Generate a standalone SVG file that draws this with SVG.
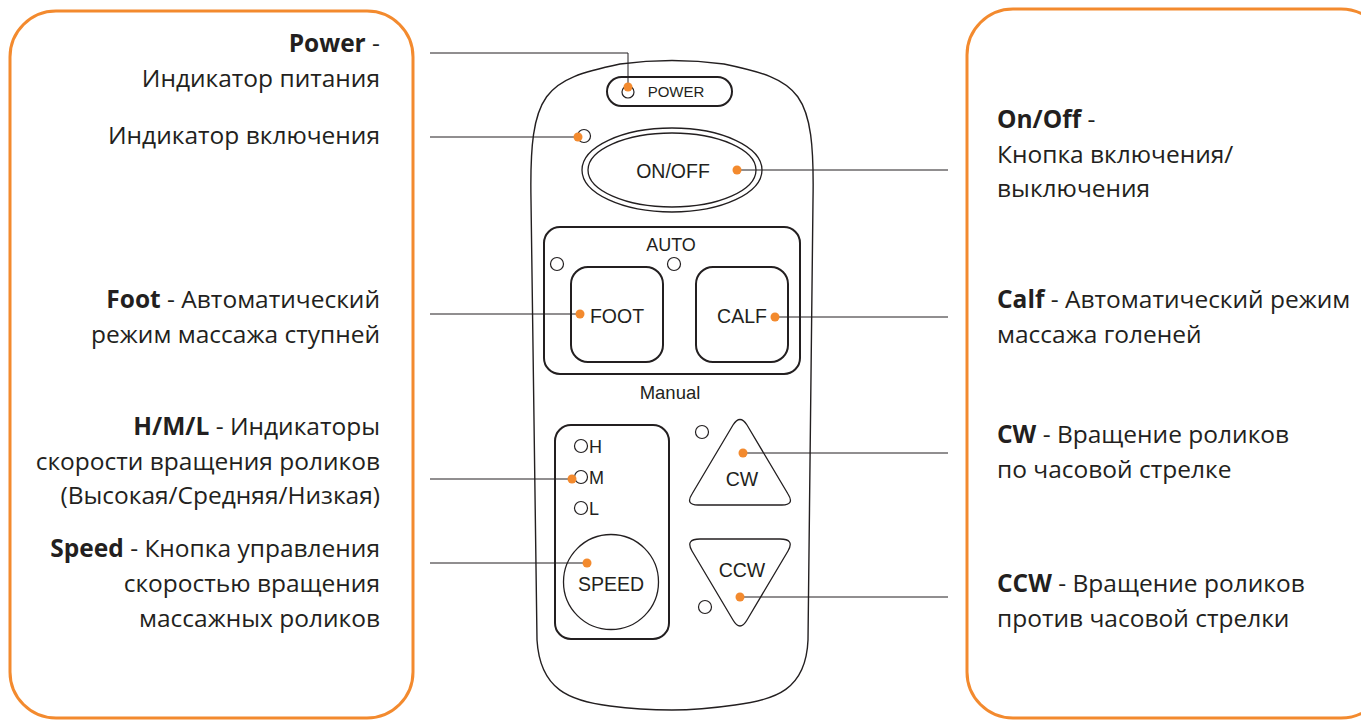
<svg xmlns="http://www.w3.org/2000/svg" width="1361" height="720" viewBox="0 0 1361 720">
<style>
.panel{fill:none;stroke:#f38a2e;stroke-width:3}
.body{fill:#fff;stroke:#231f20;stroke-width:1.4}
.btn{fill:#fff;stroke:#231f20;stroke-width:2}
.thin{fill:#fff;stroke:#231f20;stroke-width:1.3}
.led{fill:#fff;stroke:#231f20;stroke-width:1.2}
.dot{fill:#f38a2e}
.conn{fill:none;stroke:#231f20;stroke-width:1}
.lbl{font-family:"Open Sans","Noto Sans","Liberation Sans",sans-serif;font-size:24.5px;fill:#231f20}
.lbl .b{font-weight:bold}
.dev{font-family:"Liberation Sans",Arial,sans-serif;font-size:19.5px;fill:#231f20;text-anchor:middle}
.r{text-anchor:end}
</style>
<rect width="1361" height="720" fill="#fff"/>
<g id="left-panel">
<rect class="panel" x="10" y="11" width="403" height="707" rx="46" ry="46"/>
<text class="lbl r" x="380" y="52"><tspan class="b">Power</tspan> -</text>
<text class="lbl r" x="380" y="87">Индикатор питания</text>
<text class="lbl r" x="380" y="144">Индикатор включения</text>
<text class="lbl r" x="380" y="308"><tspan class="b">Foot</tspan> - Автоматический</text>
<text class="lbl r" x="380" y="343">режим массажа ступней</text>
<text class="lbl r" x="380" y="435"><tspan class="b">H/M/L</tspan> - Индикаторы</text>
<text class="lbl r" x="380" y="470">скорости вращения роликов</text>
<text class="lbl r" x="380" y="504">(Высокая/Средняя/Низкая)</text>
<text class="lbl r" x="380" y="557"><tspan class="b">Speed</tspan> - Кнопка управления</text>
<text class="lbl r" x="380" y="592">скоростью вращения</text>
<text class="lbl r" x="380" y="627">массажных роликов</text>
</g>
<g id="right-panel">
<rect class="panel" x="967" y="9" width="420" height="709" rx="46" ry="46"/>
<text class="lbl" x="997" y="128"><tspan class="b">On/Off</tspan> -</text>
<text class="lbl" x="997" y="163">Кнопка включения/</text>
<text class="lbl" x="997" y="197">выключения</text>
<text class="lbl" x="997" y="308"><tspan class="b">Calf</tspan> - Автоматический режим</text>
<text class="lbl" x="997" y="343">массажа голеней</text>
<text class="lbl" x="997" y="443"><tspan class="b">CW</tspan> - Вращение роликов</text>
<text class="lbl" x="997" y="478">по часовой стрелке</text>
<text class="lbl" x="997" y="592"><tspan class="b">CCW</tspan> - Вращение роликов</text>
<text class="lbl" x="997" y="627">против часовой стрелки</text>
</g>
<g id="remote">
<path class="body" d="M531,200 C529,90 545,80 620,64 Q672,57 724,64 C800,80 815,90 813,200 L808,640 C806,690 775,700 735,705 Q700,710 672,710 Q640,710 610,706 C570,701 540,690 537,640 Z"/>
<g id="power-button">
<rect class="btn" x="607" y="77" width="125" height="29" rx="14.5"/>
<circle class="led" cx="628" cy="92" r="6"/>
<text class="dev" x="676" y="97" style="font-size:15px">POWER</text>
</g>
<g id="on-led"><circle class="led" cx="584" cy="136" r="6.5"/></g>
<g id="onoff-button">
<ellipse class="thin" cx="672" cy="170" rx="90" ry="42"/>
<ellipse class="thin" cx="672" cy="170" rx="84" ry="37"/>
<text class="dev" x="673" y="178">ON/OFF</text>
</g>
<g id="auto-panel">
<rect class="btn" x="544" y="227" width="256" height="147" rx="16"/>
<text class="dev" x="671" y="251" style="font-size:18px">AUTO</text>
<circle class="led" cx="557" cy="264" r="6.5"/>
<circle class="led" cx="674" cy="264" r="6.5"/>
</g>
<g id="foot-button">
<rect class="btn" x="571" y="267" width="92" height="95" rx="17"/>
<text class="dev" x="617" y="323">FOOT</text>
</g>
<g id="calf-button">
<rect class="btn" x="696" y="267" width="92" height="95" rx="17"/>
<text class="dev" x="742" y="323">CALF</text>
</g>
<text class="dev" x="670" y="399" style="font-size:18.5px">Manual</text>
<g id="speed-panel">
<rect class="btn" x="555" y="425" width="114" height="214" rx="16"/>
<circle class="led" cx="581" cy="446" r="6.5"/>
<text class="dev" x="589" y="453" style="text-anchor:start;font-size:18px">H</text>
<circle class="led" cx="581" cy="477" r="6.5"/>
<text class="dev" x="589" y="484" style="text-anchor:start;font-size:18px">M</text>
<circle class="led" cx="581" cy="508" r="6.5"/>
<text class="dev" x="589" y="515" style="text-anchor:start;font-size:18px">L</text>
</g>
<g id="speed-button">
<circle class="thin" cx="611" cy="582" r="47.5"/>
<text class="dev" x="611" y="591">SPEED</text>
</g>
<g id="cw-button">
<circle class="led" cx="702" cy="432" r="6.5"/>
<path class="thin" d="M733,425 Q740,414 747,425 L788,494 Q795,505 782,505 L698,505 Q685,505 692,494 Z"/>
<text class="dev" x="742" y="486">CW</text>
</g>
<g id="ccw-button">
<circle class="led" cx="705" cy="607" r="6.5"/>
<path class="thin" d="M700,539 L780,539 Q795,539 788,551 L747,620 Q740,632 733,620 L692,551 Q685,539 700,539 Z"/>
<text class="dev" x="742" y="577">CCW</text>
</g>
</g>
<g id="connectors">
<polyline class="conn" points="430,53 628,53 628,87"/>
<line class="conn" x1="430" y1="137" x2="578" y2="137"/>
<line class="conn" x1="737" y1="170" x2="948" y2="170"/>
<line class="conn" x1="430" y1="314" x2="580" y2="314"/>
<line class="conn" x1="775" y1="317" x2="948" y2="317"/>
<line class="conn" x1="430" y1="479" x2="572" y2="479"/>
<line class="conn" x1="430" y1="563" x2="587" y2="563"/>
<line class="conn" x1="743" y1="453" x2="948" y2="453"/>
<line class="conn" x1="740" y1="597" x2="948" y2="597"/>
<circle class="dot" cx="628" cy="87" r="4.5"/>
<circle class="dot" cx="578" cy="137" r="4.5"/>
<circle class="dot" cx="737" cy="170" r="4.5"/>
<circle class="dot" cx="580" cy="314" r="4.5"/>
<circle class="dot" cx="775" cy="317" r="4.5"/>
<circle class="dot" cx="572" cy="479" r="4.5"/>
<circle class="dot" cx="587" cy="563" r="4.5"/>
<circle class="dot" cx="743" cy="453" r="4.5"/>
<circle class="dot" cx="740" cy="597" r="4.5"/>
</g>
</svg>
